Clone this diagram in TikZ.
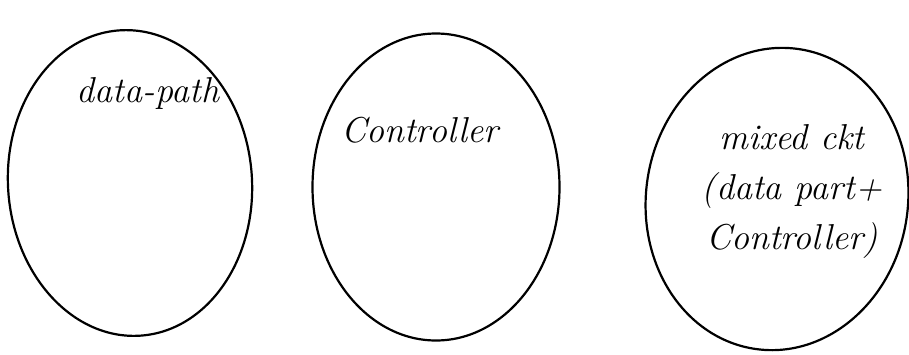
\documentclass[tikz,border=0pt]{standalone}
\usepackage{tikz}
\usetikzlibrary{positioning,shapes.geometric}

\begin{document}
\begin{tikzpicture}[
  x=1pt, y=-1pt,
  blob/.style={draw, ellipse, line width=2.2pt, inner sep=0pt},
  lbl/.style={font=\fontsize{36}{50}\selectfont\itshape, align=center, inner sep=0pt}
]
  \useasboundingbox (0,0) rectangle (909,354);

  % the three circuit classes
  \node[blob, minimum width=244pt, minimum height=306pt, rotate=4] (dp) at (130,183) {};
  \node[blob, minimum width=247pt, minimum height=307pt] (ctl) at (436,187) {};
  \node[blob, minimum width=262pt, minimum height=303pt, rotate=-8] (mix) at (777,199) {};

  \node[lbl] (dpText) at (148,93) {data-path};
  \node[lbl] (ctlText) at (420,130) {Controller};
  \node[lbl] (mixText) at (792,192) {mixed ckt\\(data part+\\Controller)};
\end{tikzpicture}
\end{document}
